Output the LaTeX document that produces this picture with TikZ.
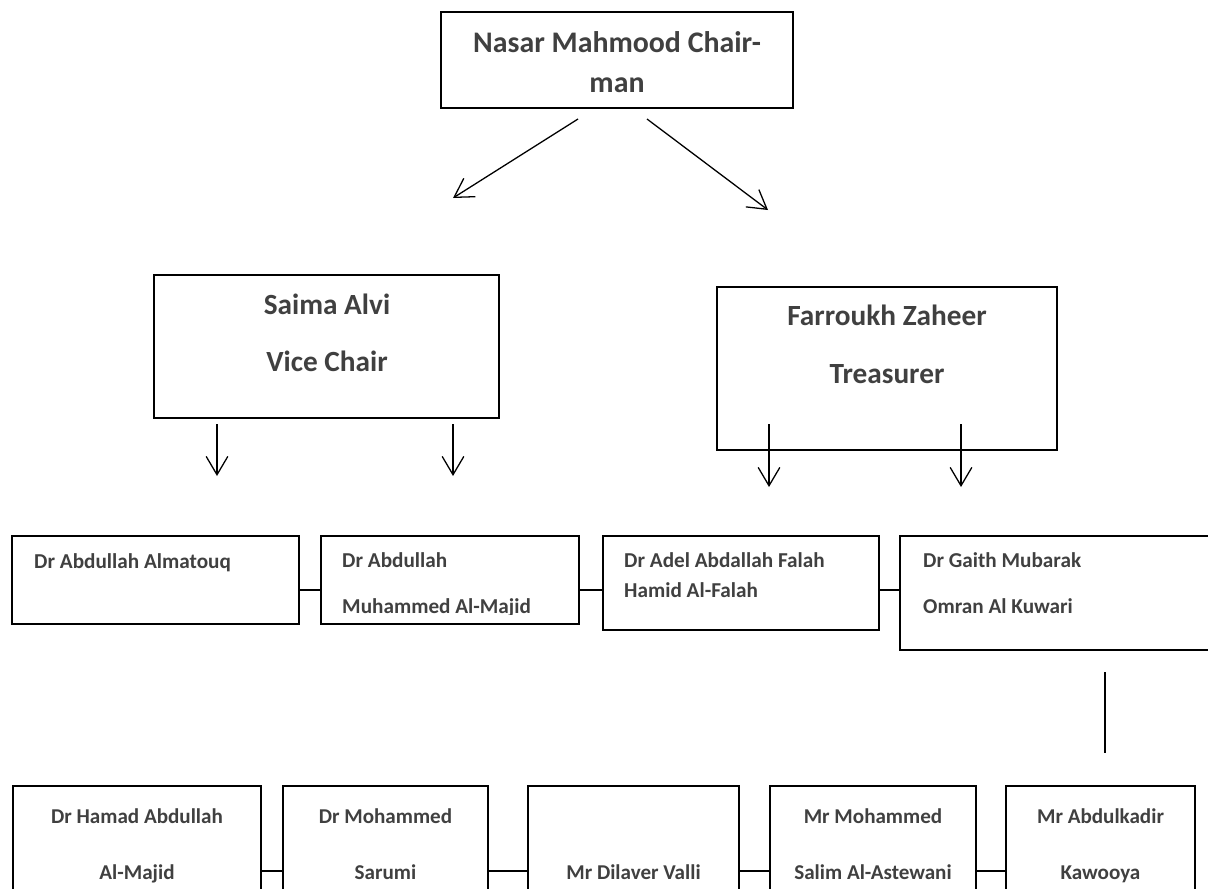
\documentclass[tikz,border=0pt]{standalone}
\usepackage{fontspec}
\setmainfont{Carlito}
\usetikzlibrary{arrows.meta}
\usetikzlibrary{fit}
\definecolor{namegray}{RGB}{64,64,64}
\tikzset{
  box/.style={draw=black,line width=1.5pt,inner sep=0pt},
  tip/.style={-{Straight Barb[length=5.5mm,width=6.5mm]},line width=1.1pt},
  link/.style={line width=1.5pt},
  topname/.style={font=\fontsize{25.5}{30}\selectfont\bfseries,text=namegray,inner sep=0pt,anchor=base},
  midname/.style={font=\fontsize{25}{30}\selectfont\bfseries,text=namegray,inner sep=0pt,anchor=base},
  rowname/.style={font=\fontsize{18.1}{22}\selectfont\bfseries,text=namegray,inner sep=0pt,anchor=base west},
  lowname/.style={font=\fontsize{18}{22}\selectfont\bfseries,text=namegray,inner sep=0pt,anchor=base}
}
\begin{document}
\begin{tikzpicture}[x=0.03cm,y=-0.03cm]
\useasboundingbox (0,0) rectangle (1208,888);
\clip (0,0) rectangle (1208,888);

% chairman
\node[box,fit={(441,12) (793,108)}] (chair) {};
\node[topname] (chairA) at (617,52) {Nasar Mahmood Chair-};
\node[topname] (chairB) at (617,92) {man};

% officers
\node[box,fit={(154,275) (499,418)}] (vice) {};
\node[midname] (viceA) at (327,314) {Saima Alvi};
\node[midname] (viceB) at (327,371) {Vice Chair};
\node[box,fit={(717,287) (1057,450)}] (treas) {};
\node[midname] (treasA) at (887,325) {Farroukh Zaheer};
\node[midname] (treasB) at (887,383) {Treasurer};

\coordinate (c1) at (578,119);
\coordinate (c2) at (453,198);
\coordinate (c3) at (647,119);
\coordinate (c4) at (768,210);
\draw[tip] (c1) -- (c2);
\draw[tip] (c3) -- (c4);

\coordinate (v1) at (217,424);
\coordinate (v2) at (217,476);
\coordinate (v3) at (453,424);
\coordinate (v4) at (453,476);
\coordinate (t1) at (769,424);
\coordinate (t2) at (769,487);
\coordinate (t3) at (961,424);
\coordinate (t4) at (961,487);
\draw[tip] (v1) -- (v2);
\draw[tip] (v3) -- (v4);
\draw[tip] (t1) -- (t2);
\draw[tip] (t3) -- (t4);

% first row
\node[box,fit={(12,536) (299,624)}] (almatouq) {};
\node[rowname] (almatouqA) at (34,568) {Dr Abdullah Almatouq};
\node[box,fit={(321,536) (579,624)}] (majid) {};
\node[rowname] (majidA) at (342,567) {Dr Abdullah};
\begin{scope}
\clip (321,540) rectangle (579,614);
\node[rowname] (majidB) at (342,613) {Muhammed Al-Majid};
\end{scope}
\node[box,fit={(603,536) (879,630)}] (falah) {};
\node[rowname] (falahA) at (624,567) {Dr Adel Abdallah Falah};
\node[rowname] (falahB) at (624,597) {Hamid Al-Falah};
\node[box,fit={(900,536) (1215,650)}] (kuwari) {};
\node[rowname] (kuwariA) at (923,567) {Dr Gaith Mubarak};
\node[rowname] (kuwariB) at (923,613) {Omran Al Kuwari};

\draw[link] (almatouq.east |- 0,590) -- (majid.west |- 0,590);
\draw[link] (majid.east |- 0,590) -- (falah.west |- 0,590);
\draw[link] (falah.east |- 0,590) -- (kuwari.west |- 0,590);

\coordinate (k1) at (1105,672);
\coordinate (k2) at (1105,753);
\draw[link] (k1) -- (k2);

% second row
\node[box,fit={(13,786) (261,900)}] (hamad) {};
\node[lowname] (hamadA) at (137,823.5) {Dr Hamad Abdullah};
\node[lowname] (hamadB) at (137,879) {Al-Majid};
\node[box,fit={(283,786) (488,900)}] (sarumi) {};
\node[lowname] (sarumiA) at (385.5,823.5) {Dr Mohammed};
\node[lowname] (sarumiB) at (385.5,879) {Sarumi};
\node[box,fit={(528,786) (739,900)}] (valli) {};
\node[lowname] (valliA) at (633.5,879) {Mr Dilaver Valli};
\node[box,fit={(770,786) (976,900)}] (astewani) {};
\node[lowname] (astewaniA) at (873,823.5) {Mr Mohammed};
\node[lowname] (astewaniB) at (873,879) {Salim Al-Astewani};
\node[box,fit={(1006,786) (1195,900)}] (kawooya) {};
\node[lowname] (kawooyaA) at (1100.5,823.5) {Mr Abdulkadir};
\node[lowname] (kawooyaB) at (1100.5,879) {Kawooya};

\draw[link] (hamad.east |- 0,871) -- (sarumi.west |- 0,871);
\draw[link] (sarumi.east |- 0,871) -- (valli.west |- 0,871);
\draw[link] (valli.east |- 0,871) -- (astewani.west |- 0,871);
\draw[link] (astewani.east |- 0,871) -- (kawooya.west |- 0,871);

\end{tikzpicture}
\end{document}
